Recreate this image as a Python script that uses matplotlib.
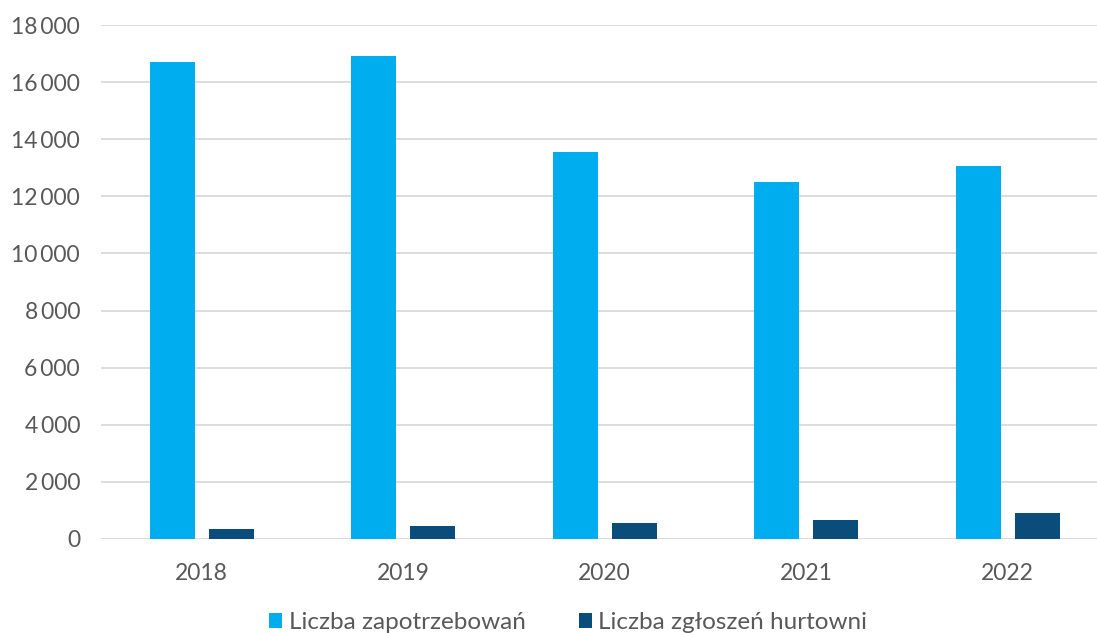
import matplotlib
matplotlib.use("Agg")
import matplotlib.pyplot as plt
import numpy as np
from matplotlib.ticker import FuncFormatter

plt.rcParams["font.family"] = ["Lato", "DejaVu Sans"]

years = ["2018", "2019", "2020", "2021", "2022"]
zapotrzebowania = [16700, 16900, 13550, 12500, 13060]
zgloszenia = [350, 450, 560, 660, 910]

LIGHT = "#00AEEF"
DARK = "#0A4D7B"
TEXT = "#595959"
GRID = "#D9D9D9"

fig = plt.figure(figsize=(10.97, 6.33), dpi=100)
ax = fig.add_axes([0.092, 0.1485, 0.908, 0.812])

x = np.arange(len(years))
w = 0.223
ax.bar(x - 0.146, zapotrzebowania, width=w, color=LIGHT, label="Liczba zapotrzebowań", zorder=3)
ax.bar(x + 0.146, zgloszenia, width=w, color=DARK, label="Liczba zgłoszeń hurtowni", zorder=3)

ax.set_xlim(-0.5, 4.443)
ax.set_ylim(0, 18000)
ax.set_yticks(np.arange(0, 18001, 2000))
ax.yaxis.set_major_formatter(FuncFormatter(lambda v, _: f"{int(v):,}".replace(",", "\u2009")))
ax.set_xticks(x)
ax.set_xticklabels(years)
ax.grid(True, axis="y", color=GRID, linewidth=1.3, zorder=0)
for s in ax.spines.values():
    s.set_visible(False)
ax.tick_params(axis="both", length=0, labelsize=16.5, labelcolor=TEXT)
ax.tick_params(axis="x", pad=17)
ax.tick_params(axis="y", pad=15)

fig.legend(loc="lower center", bbox_to_anchor=(0.518, -0.035), ncol=2, frameon=False,
           fontsize=17.5, labelcolor=TEXT, handlelength=0.55, handleheight=0.55,
           handletextpad=0.25, columnspacing=2.2)

fig.savefig("out.png", dpi=100)
